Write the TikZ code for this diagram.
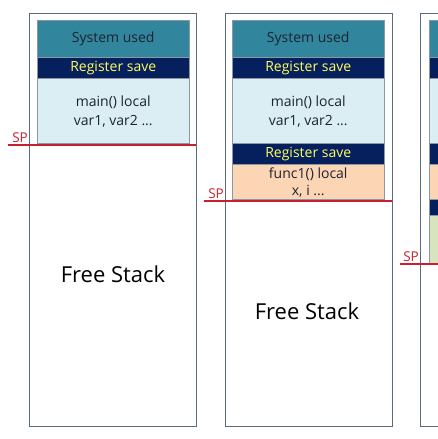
\documentclass[tikz,border=0pt]{standalone}
\usepackage{fontspec}
\setmainfont{Open Sans}
\definecolor{framegray}{HTML}{5B6B7F}
\definecolor{systeal}{HTML}{31859C}
\definecolor{regnavy}{HTML}{06205E}
\definecolor{regyellow}{HTML}{FFFF5E}
\definecolor{mainblue}{HTML}{DBEEF4}
\definecolor{funcpeach}{HTML}{FCD5B4}
\definecolor{funcgreen}{HTML}{D7E4BD}
\definecolor{spred}{HTML}{C8202E}
\definecolor{inktext}{HTML}{1C2430}
\begin{document}
\begin{tikzpicture}[x=1pt,y=-1pt]
\tikzstyle{every node}+=[inner sep=0pt]
\tikzstyle{frame}=[draw=framegray, line width=1.3pt, anchor=north west, minimum width=167pt, minimum height=413pt]
\tikzstyle{blk}=[draw=framegray!70, line width=0.5pt, anchor=north west, minimum width=152pt, text=inktext, align=center, font=\fontsize{14}{18.5}\selectfont]
\tikzstyle{sysblk}=[blk, fill=systeal, minimum height=37pt]
\tikzstyle{regblk}=[blk, fill=regnavy, text=regyellow, minimum height=21pt]
\tikzstyle{mainblk}=[blk, fill=mainblue, minimum height=65pt, text depth=-4pt]
\tikzstyle{funcblk}=[blk, fill=funcpeach, minimum height=35pt, text depth=-5pt]
\tikzstyle{greenblk}=[blk, fill=funcgreen]
\tikzstyle{spline}=[draw=spred, line width=2pt]
\tikzstyle{splabel}=[text=spred, anchor=base east, font=\fontsize{13.5}{15}\selectfont]
\tikzstyle{freetext}=[text=black, font=\fontsize{22}{26}\selectfont]
\useasboundingbox (0,0) rectangle (438,439);
\clip (0,0) rectangle (438,439);
% panel 1: main only
\node [frame] (p1frame) at (29,13) {};
\node [sysblk] (p1sys) at (37,20) {System used};
\node [regblk] (p1reg) at (37,57) {Register save};
\node [mainblk] (p1main) at (37,78) {main() local\\var1, var2 ...};
\node [freetext] (p1free) at (113,274) {Free Stack};
\coordinate (sp1a) at (8,145);
\coordinate (sp1b) at (196,145);
\draw [spline] (sp1a) -- (sp1b);
\node [splabel] (sp1txt) at (28,142) {SP};
% panel 2: main calls func1
\node [frame] (p2frame) at (225,13) {};
\node [sysblk] (p2sys) at (232,20) {System used};
\node [regblk] (p2reg) at (232,57) {Register save};
\node [mainblk] (p2main) at (232,78) {main() local\\var1, var2 ...};
\node [regblk] (p2reg2) at (232,143) {Register save};
\node [funcblk, font=\fontsize{14}{17.5}\selectfont] (p2func) at (232,164) {func1() local\\x, i ...};
\node [freetext] (p2free) at (307,311) {Free Stack};
\coordinate (sp2a) at (204,201);
\coordinate (sp2b) at (392,201);
\draw [spline] (sp2a) -- (sp2b);
\node [splabel] (sp2txt) at (224,198) {SP};
% panel 3: cut off at the right
\node [frame] (p3frame) at (420,13) {};
\node [sysblk] (p3sys) at (429,20) {};
\node [regblk] (p3reg) at (429,57) {};
\node [mainblk] (p3main) at (429,78) {};
\node [regblk] (p3reg2) at (429,143) {};
\node [funcblk] (p3func) at (429,164) {};
\node [regblk, minimum height=16pt] (p3reg3) at (429,199) {};
\node [greenblk, minimum height=49pt] (p3func2) at (429,215) {};
\coordinate (sp3a) at (400,264);
\coordinate (sp3b) at (440,264);
\draw [spline] (sp3a) -- (sp3b);
\node [splabel] (sp3txt) at (419,261) {SP};
\end{tikzpicture}
\end{document}
